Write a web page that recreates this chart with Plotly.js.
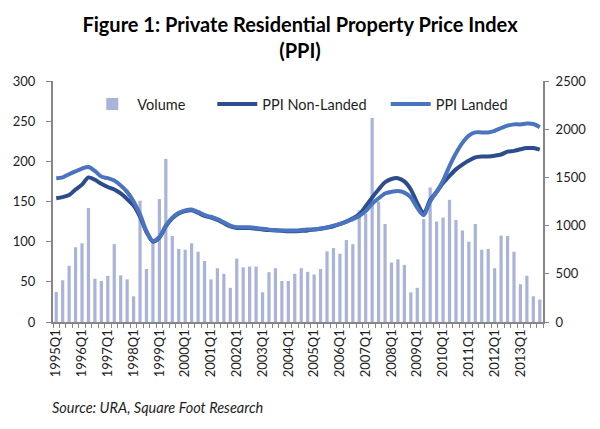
<!DOCTYPE html>
<html>
<head>
<meta charset="utf-8">
<script src="https://cdn.plot.ly/plotly-3.0.1.min.js"></script>
<style>html,body{margin:0;padding:0;background:#fff;}#chart{width:600px;height:429px;}</style>
</head>
<body>
<div id="chart"></div>
<script>
// Quarters 1995Q1 .. 2013Q4
const years = [1995,1996,1997,1998,1999,2000,2001,2002,2003,2004,2005,2006,2007,2008,2009,2010,2011,2012,2013];
const quarters = [];
years.forEach(y => { for (let q = 1; q <= 4; q++) quarters.push(y + 'Q' + q); });

// Transaction volume (right axis)
const volume = [
  312, 433, 583, 775, 817, 1183, 450, 425,
  479, 808, 483, 442, 267, 1258, 550, 850,
  1275, 1692, 892, 758, 750, 817, 729, 633,
  442, 558, 500, 354, 658, 567, 575, 575,
  308, 517, 558, 425, 425, 500, 558, 521,
  492, 550, 733, 767, 708, 850, 808, 1158,
  1125, 2117, 1250, 1017, 617, 650, 592, 308,
  354, 1067, 1396, 1042, 1083, 1267, 1058, 950,
  833, 1017, 750, 758, 558, 896, 892, 729,
  392, 479, 267, 233
];

// PPI Non-Landed (left axis)
const ppiNonLanded = [
  154, 155.5, 158, 165, 171, 180, 177, 172,
  168, 165, 160, 153, 145, 131, 112, 100,
  105, 119, 129, 135, 138, 139, 136, 132,
  130, 127, 123, 119, 117, 117, 117, 116,
  115, 114.5, 114, 113.5, 113, 113, 113.5, 114,
  115, 116, 117.5, 119, 122, 125, 129, 134,
  144, 155, 165, 174, 178, 179, 175, 165,
  148, 135, 152, 162, 173, 182, 190, 196,
  201, 205, 206, 206, 207, 208.5, 212, 213,
  215, 216.5, 216.5, 214.5
];

// PPI Landed (left axis)
const ppiLanded = [
  179, 180, 184, 187.5, 191, 193, 188, 181,
  179, 176, 170, 162, 150, 134, 113, 101,
  106, 120, 130, 136, 139, 140, 137, 133,
  131, 128, 124, 120, 118, 118, 118, 117,
  116, 115, 114.5, 114, 114, 114, 114.5, 115,
  115.5, 116.5, 118, 120, 122, 125, 128, 132,
  138, 147, 154, 160, 162, 163, 161, 155,
  142, 133, 150, 162, 176, 194, 210, 223,
  232, 236, 236, 236, 238, 241.5, 244.5, 246,
  246, 247, 246.5, 242.5
];

const tickText = quarters.map(q => q.endsWith('Q1') ? q : '');

const FONT = 'Lato, "Open Sans", sans-serif';
const TXT = '#1e1e1e';
const AX = '#868686';

const traces = [
  {
    type: 'bar', name: 'Volume', x: quarters, y: volume,
    xaxis: 'x', yaxis: 'y',
    marker: {color: '#a9b4d8'},
    legend: 'legend'
  },
  {
    type: 'scatter', mode: 'lines', name: 'PPI Non-Landed', x: quarters, y: ppiNonLanded,
    xaxis: 'x', yaxis: 'y2',
    line: {color: '#2d4c8c', width: 4, shape: 'spline', smoothing: 0.8},
    legend: 'legend2'
  },
  {
    type: 'scatter', mode: 'lines', name: 'PPI Landed', x: quarters, y: ppiLanded,
    xaxis: 'x', yaxis: 'y2',
    line: {color: '#4a74c0', width: 4, shape: 'spline', smoothing: 0.8},
    legend: 'legend3'
  }
];

const legendBase = {
  orientation: 'h', yanchor: 'middle', xanchor: 'left', y: 0.904,
  bgcolor: 'rgba(0,0,0,0)', borderwidth: 0, itemwidth: 40,
  font: {family: FONT, size: 14.5, color: TXT}
};

const layout = {
  width: 600, height: 429,
  margin: {l: 53, r: 57, t: 81, b: 107, pad: 0},
  paper_bgcolor: '#fff', plot_bgcolor: '#fff',
  font: {family: FONT, size: 13, color: TXT},
  title: {
    text: '<b>Figure 1: Private Residential Property Price Index<br>(PPI)</b>',
    x: 0.5, xref: 'container', xanchor: 'center',
    y: 0.925, yref: 'container', yanchor: 'top',
    font: {family: FONT, size: 20, color: '#000'}
  },
  bargap: 0.5,
  showlegend: true,
  legend: Object.assign({}, legendBase, {x: 0.07}),
  legend2: Object.assign({}, legendBase, {x: 0.325}),
  legend3: Object.assign({}, legendBase, {x: 0.679}),
  xaxis: {
    type: 'category', categoryorder: 'array', categoryarray: quarters,
    tickmode: 'array', tickvals: quarters, ticktext: tickText,
    tickangle: -90, tickson: 'boundaries',
    ticks: 'outside', ticklen: 4, tickcolor: AX, tickwidth: 1,
    showline: true, linecolor: AX, linewidth: 2,
    showgrid: false, zeroline: false,
    tickfont: {family: FONT, size: 13, color: TXT}
  },
  yaxis: {
    side: 'right', range: [0, 2500], tickmode: 'linear', tick0: 0, dtick: 500,
    ticks: 'outside', ticklen: 4, tickcolor: AX,
    showline: true, linecolor: AX, linewidth: 2,
    showgrid: false, zeroline: false, ticklabelstandoff: 4,
    tickfont: {family: FONT, size: 13, color: TXT}
  },
  yaxis2: {
    overlaying: 'y', side: 'left', anchor: 'x',
    range: [0, 300], tickmode: 'linear', tick0: 0, dtick: 50,
    ticks: 'outside', ticklen: 5, tickcolor: AX,
    showline: true, linecolor: AX, linewidth: 2,
    showgrid: false, zeroline: false, ticklabelstandoff: 8,
    tickfont: {family: FONT, size: 13, color: TXT}
  },
  annotations: [{
    text: '<i>Source: URA, Square Foot Research</i>',
    xref: 'paper', yref: 'paper', x: -0.006, y: -0.355,
    xanchor: 'left', yanchor: 'middle', showarrow: false,
    font: {family: FONT, size: 14.5, color: TXT}
  }]
};

Plotly.newPlot('chart', traces, layout, {displayModeBar: false, staticPlot: true});
</script>
</body>
</html>
